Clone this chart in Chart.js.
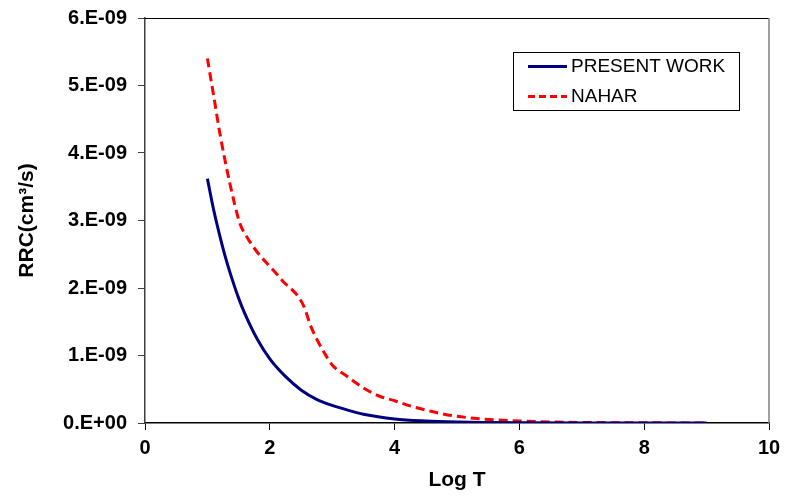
<!DOCTYPE html>
<html>
<head>
<meta charset="utf-8">
<script src="https://cdn.jsdelivr.net/npm/chart.js@4.4.1/dist/chart.umd.min.js"></script>
<style>
html,body{margin:0;padding:0;background:#fff;}
#wrap{width:785px;height:498px;position:relative;}
</style>
</head>
<body>
<div id="wrap"><canvas id="c" width="785" height="498"></canvas></div>
<script>
// Series labels
const seriesLabels = ['PRESENT WORK', 'NAHAR'];
// PRESENT WORK (Log T, RRC)
const presentX = [1.0,1.1,1.2,1.3,1.4,1.5,1.6,1.8,2.0,2.25,2.5,2.75,3.0,3.25,3.5,4.0,4.5,5.0,5.5,6.0,7.0,8.0,9.0];
const presentY = [3.62e-9,3.16e-9,2.77e-9,2.42e-9,2.12e-9,1.85e-9,1.62e-9,1.24e-9,0.95e-9,0.69e-9,0.49e-9,0.35e-9,0.26e-9,0.19e-9,0.13e-9,0.06e-9,0.03e-9,0.015e-9,0.008e-9,0.004e-9,0.001e-9,0.0003e-9,0.0001e-9];
// NAHAR (Log T, RRC)
const naharX = [1.0,1.1,1.2,1.36,1.52,1.63,1.8,1.95,2.1,2.22,2.35,2.45,2.55,2.65,2.76,2.88,3.0,3.24,3.5,3.75,4.0,4.3,4.6,4.85,5.4,6.0,6.7,7.5,8.25,9.0];
const naharY = [5.40e-9,4.85e-9,4.29e-9,3.55e-9,2.96e-9,2.76e-9,2.53e-9,2.37e-9,2.22e-9,2.09e-9,1.98e-9,1.88e-9,1.72e-9,1.45e-9,1.23e-9,1.03e-9,0.86e-9,0.69e-9,0.52e-9,0.40e-9,0.33e-9,0.24e-9,0.17e-9,0.12e-9,0.06e-9,0.03e-9,0.012e-9,0.005e-9,0.002e-9,0.001e-9];
// Tick labels
const yTickLabels = ['0.E+00','1.E-09','2.E-09','3.E-09','4.E-09','5.E-09','6.E-09'];
const xTickLabels = ['0','2','4','6','8','10'];

const FONT = '"Liberation Sans", Arial, sans-serif';

const frameAndLegend = {
  id: 'frameAndLegend',
  afterDatasetsDraw(chart) {
    const ctx = chart.ctx, a = chart.chartArea;
    ctx.save();
    ctx.strokeStyle = '#000';
    ctx.lineWidth = 1;
    ctx.beginPath();
    ctx.moveTo(a.left, Math.round(a.top) + 0.5);
    ctx.lineTo(a.right, Math.round(a.top) + 0.5);
    ctx.stroke();
    ctx.strokeStyle = '#808080';
    ctx.lineWidth = 1.5;
    ctx.beginPath();
    ctx.moveTo(a.right, a.top);
    ctx.lineTo(a.right, a.bottom);
    ctx.stroke();
    const bx = 513.5, by = 52.5, bw = 226, bh = 58;
    ctx.fillStyle = '#fff';
    ctx.fillRect(bx, by, bw, bh);
    ctx.strokeStyle = '#000';
    ctx.lineWidth = 1;
    ctx.strokeRect(bx, by, bw, bh);
    const rows = [66.5, 96.5];
    chart.data.datasets.forEach((ds, i) => {
      const y = rows[i];
      ctx.strokeStyle = ds.borderColor;
      ctx.lineWidth = 3;
      ctx.setLineDash(ds.legendDash || []);
      ctx.beginPath();
      ctx.moveTo(528, y);
      ctx.lineTo(567, y);
      ctx.stroke();
      ctx.setLineDash([]);
      ctx.fillStyle = '#000';
      ctx.font = '19px ' + FONT;
      ctx.textBaseline = 'middle';
      ctx.textAlign = 'left';
      ctx.fillText(ds.label, 571, y);
    });
    ctx.restore();
  }
};

new Chart(document.getElementById('c'), {
  type: 'line',
  data: {
    datasets: [
      {
        label: seriesLabels[0],
        data: presentX.map((x, i) => ({x, y: presentY[i]})),
        borderColor: '#000080',
        borderWidth: 3,
        pointRadius: 0,
        fill: false,
        cubicInterpolationMode: 'monotone'
      },
      {
        label: seriesLabels[1],
        data: naharX.map((x, i) => ({x, y: naharY[i]})),
        borderColor: '#FF0000',
        borderWidth: 3,
        borderDash: [9, 5],
        legendDash: [7, 4],
        pointRadius: 0,
        fill: false,
        cubicInterpolationMode: 'monotone'
      }
    ]
  },
  options: {
    responsive: false,
    animation: false,
    layout: { padding: { left: 0, top: 18, right: 16, bottom: 0 } },
    plugins: { legend: { display: false }, tooltip: { enabled: false } },
    scales: {
      x: {
        type: 'linear',
        min: 0, max: 10,
        afterFit(s) { s.height = 75; s.paddingLeft = 0; s.paddingRight = 0; },
        grid: { drawOnChartArea: false, tickLength: 7, color: '#000', tickColor: '#000' },
        border: { color: '#000', width: 1.5 },
        ticks: {
          stepSize: 2,
          padding: 6,
          color: '#000',
          font: { family: FONT, size: 20, weight: 'bold' },
          callback: (v) => { const k = Math.round(v / 2); return xTickLabels[k] ?? ''; }
        },
        title: {
          display: true, text: 'Log T', color: '#000',
          font: { family: FONT, size: 21, weight: 'bold' },
          padding: { top: 4, bottom: 5 }
        }
      },
      y: {
        type: 'linear',
        min: 0, max: 6e-9,
        afterFit(s) { s.width = 145; s.paddingTop = 0; s.paddingBottom = 0; },
        grid: { drawOnChartArea: false, tickLength: 7, color: '#404040', tickColor: '#404040' },
        border: { color: '#404040', width: 1.5 },
        ticks: {
          stepSize: 1e-9,
          padding: 11,
          color: '#000',
          font: { family: FONT, size: 20, weight: 'bold' },
          callback: (v) => { const k = Math.round(v / 1e-9); return yTickLabels[k] ?? ''; }
        },
        title: {
          display: true, text: 'RRC(cm³/s)', color: '#000',
          font: { family: FONT, size: 21, weight: 'bold' },
          padding: { top: 15, bottom: 0 }
        }
      }
    }
  },
  plugins: [frameAndLegend]
});
</script>
</body>
</html>
